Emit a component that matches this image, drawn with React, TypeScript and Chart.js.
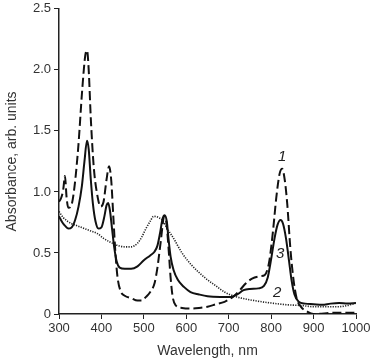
import React, { useEffect, useRef } from "react";
import { Chart, registerables } from "chart.js";

Chart.register(...registerables);

// Curve 1 (dashed)
const wl1 = [300,305,310,314,318,322,328,335,345,355,362,366,370,375,382,390,398,405,412,418,423,428,433,438,445,455,470,485,495,505,515,525,532,540,548,553,558,563,568,575,590,610,630,650,670,690,710,725,740,755,775,785,795,805,812,820,826,832,838,845,852,860,870,885,900,950,1000];
const abs1 = [0.92,0.95,1.02,1.13,0.95,0.87,0.88,1.0,1.35,1.85,2.12,2.16,2.0,1.6,1.2,0.98,0.88,0.92,1.1,1.21,1.1,0.8,0.5,0.3,0.19,0.15,0.13,0.11,0.11,0.14,0.18,0.25,0.38,0.6,0.8,0.75,0.55,0.3,0.14,0.07,0.05,0.045,0.05,0.06,0.08,0.1,0.14,0.19,0.25,0.29,0.31,0.32,0.42,0.7,0.95,1.15,1.19,1.1,0.9,0.55,0.3,0.13,0.06,0.02,0.0,0.01,0.01];

// Curve 2 (dotted)
const wl2 = [300,310,320,330,345,360,375,390,405,420,440,455,470,485,495,505,515,523,535,545,555,570,590,610,630,650,670,690,710,730,760,800,840,870,900,930,960,980,1000];
const abs2 = [0.84,0.79,0.76,0.74,0.72,0.7,0.68,0.66,0.62,0.59,0.56,0.55,0.55,0.58,0.63,0.7,0.76,0.8,0.79,0.76,0.7,0.62,0.5,0.41,0.34,0.28,0.23,0.18,0.15,0.13,0.11,0.09,0.075,0.07,0.06,0.06,0.06,0.07,0.09];

// Curve 3 (solid)
const wl3 = [300,308,315,322,330,338,346,354,360,366,370,375,380,386,393,400,407,412,416,420,425,430,436,443,455,470,485,500,515,525,532,538,544,549,554,558,563,570,580,595,610,630,650,680,705,720,735,750,770,783,792,800,808,815,822,828,835,842,848,855,865,880,900,920,940,960,980,1000];
const abs3 = [0.8,0.75,0.72,0.7,0.71,0.77,0.88,1.05,1.25,1.42,1.35,1.1,0.9,0.76,0.7,0.71,0.8,0.89,0.91,0.85,0.7,0.55,0.43,0.38,0.37,0.37,0.39,0.44,0.48,0.51,0.56,0.66,0.78,0.81,0.76,0.62,0.47,0.36,0.28,0.22,0.18,0.16,0.145,0.14,0.14,0.16,0.195,0.205,0.21,0.23,0.3,0.45,0.62,0.73,0.77,0.74,0.62,0.44,0.28,0.16,0.1,0.085,0.08,0.075,0.085,0.09,0.085,0.09];

// Curve labels
const curveLabels = ["1", "3", "2"];
const labelX = [826, 821, 814];
const labelY = [1.29, 0.495, 0.17];

const xTicks = [300, 400, 500, 600, 700, 800, 900, 1000];
const yTicks = [0, 0.5, 1.0, 1.5, 2.0, 2.5];

const toPts = (xs: number[], ys: number[]) => xs.map((x, i) => ({ x, y: ys[i] }));

const labelPlugin = {
  id: "curveLabels",
  afterDatasetsDraw(chart: any) {
    const { ctx, scales } = chart;
    ctx.save();
    ctx.fillStyle = "#222";
    ctx.font = "italic 15px 'Liberation Sans', Arial, sans-serif";
    ctx.textAlign = "center";
    ctx.textBaseline = "middle";
    curveLabels.forEach((t, i) => {
      ctx.fillText(t, scales.x.getPixelForValue(labelX[i]), scales.y.getPixelForValue(labelY[i]));
    });
    ctx.restore();
  },
};

export default function App() {
  const ref = useRef<HTMLCanvasElement>(null);
  useEffect(() => {
    document.body.style.margin = "0";
    const font = { family: "'Liberation Sans', Arial, sans-serif", size: 13 };
    const chart = new Chart(ref.current!, {
      type: "line",
      data: {
        datasets: [
          {
            data: toPts(wl1, abs1),
            borderColor: "#111",
            borderWidth: 2,
            borderDash: [9, 4],
            pointRadius: 0,
            cubicInterpolationMode: "monotone",
          },
          {
            data: toPts(wl2, abs2),
            borderColor: "#222",
            borderWidth: 1.6,
            borderDash: [1.2, 1.3],
            pointRadius: 0,
            cubicInterpolationMode: "monotone",
          },
          {
            data: toPts(wl3, abs3),
            borderColor: "#111",
            borderWidth: 2,
            pointRadius: 0,
            cubicInterpolationMode: "monotone",
          },
        ],
      },
      options: {
        animation: false,
        responsive: false,
        layout: { padding: { top: 0, right: 17, left: 0, bottom: 0 } },
        plugins: { legend: { display: false }, tooltip: { enabled: false } },
        scales: {
          x: {
            type: "linear",
            min: 300,
            max: 1000,
            afterBuildTicks: (s: any) => { s.ticks = xTicks.map((v) => ({ value: v })); },
            afterFit: (s: any) => { s.height = 50; },
            grid: { drawOnChartArea: false, tickLength: 5, color: "#222", tickColor: "#222" },
            border: { color: "#222", width: 1.5 },
            ticks: { color: "#333", font, padding: 2, maxRotation: 0, callback: (v: any) => String(v) },
            title: { display: true, text: "Wavelength, nm", color: "#333", font: { ...font, size: 14 }, padding: { top: 4 } },
          },
          y: {
            type: "linear",
            min: 0,
            max: 2.5,
            afterBuildTicks: (s: any) => { s.ticks = yTicks.map((v) => ({ value: v })); },
            afterFit: (s: any) => { s.width = 59; },
            grid: { drawOnChartArea: false, tickLength: 5, color: "#222", tickColor: "#222" },
            border: { color: "#222", width: 1.5 },
            ticks: {
              color: "#333",
              font: { ...font, lineHeight: 0.9 },
              padding: 3,
              callback: (v: any) => (v === 0 ? "0" : Number(v).toFixed(1)),
            },
            title: { display: true, text: "Absorbance, arb. units", color: "#333", font: { ...font, size: 14 }, padding: { bottom: 4 } },
          },
        },
      },
      plugins: [labelPlugin],
    } as any);
    return () => chart.destroy();
  }, []);
  return (
    <div style={{ width: 373, height: 364 }}>
      <canvas ref={ref} width={373} height={364} style={{ display: "block" }} />
    </div>
  );
}
